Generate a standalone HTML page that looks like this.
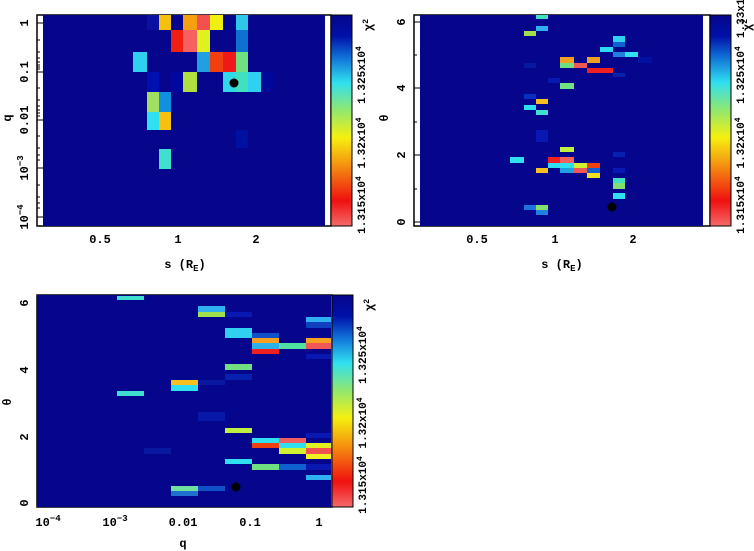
<!DOCTYPE html>
<html><head><meta charset="utf-8"><style>
html,body{margin:0;padding:0;background:#fff;width:754px;height:551px;overflow:hidden}
svg{display:block}
text{font-family:"Liberation Mono","DejaVu Sans Mono",monospace;font-weight:bold;font-size:12px;fill:#000}
.cb{font-size:11px}
</style></head><body>
<svg width="754" height="551" viewBox="0 0 754 551" xmlns="http://www.w3.org/2000/svg">
<defs>
<linearGradient id="jet" x1="0" y1="1" x2="0" y2="0">
<stop offset="0" stop-color="#f56a6a"/>
<stop offset="0.12" stop-color="#f01010"/>
<stop offset="0.3" stop-color="#f59a10"/>
<stop offset="0.42" stop-color="#f5f010"/>
<stop offset="0.55" stop-color="#90e870"/>
<stop offset="0.68" stop-color="#30e0f0"/>
<stop offset="0.8" stop-color="#1070d8"/>
<stop offset="0.9" stop-color="#0010a8"/>
<stop offset="1" stop-color="#06068c"/>
</linearGradient>
</defs>

<!-- ========== Panel 1 ========== -->
<rect x="37" y="15" width="294" height="211" fill="#fff" stroke="#000" stroke-width="1.5"/>
<rect x="43" y="15" width="282" height="211" fill="#06068c"/>
<g stroke="#000" stroke-width="1">
<path d="M37 23h6M37 72h6M37 120h6M37 168h6M37 217h6M37 40h3M37 52h3M37 58h3M37 62h3M37 65h3M37 67h3M37 69h3M37 88h3M37 100h3M37 106h3M37 110h3M37 113h3M37 116h3M37 136h3M37 148h3M37 155h3M37 160h3M37 185h3M37 197h3M37 203h3M37 208h3"/>
<path d="M414 22h6M414 88h6M414 155h6M414 222h6M414 55h3M414 122h3M414 189h3"/>
</g>
<g>
<rect x="147" y="15" width="12" height="15" fill="#0a10a0"/>
<rect x="159" y="15" width="12" height="15" fill="#f5c010"/>
<rect x="183" y="15" width="14" height="15" fill="#f5a010"/>
<rect x="197" y="15" width="13" height="15" fill="#f55050"/>
<rect x="210" y="15" width="13" height="15" fill="#f0f010"/>
<rect x="236" y="15" width="12" height="15" fill="#30c8e8"/>
<rect x="171" y="30" width="12" height="22" fill="#f02010"/>
<rect x="183" y="30" width="14" height="22" fill="#f56060"/>
<rect x="197" y="30" width="13" height="22" fill="#e0f020"/>
<rect x="236" y="30" width="12" height="22" fill="#1070d0"/>
<rect x="133" y="52" width="14" height="20" fill="#30d0f0"/>
<rect x="197" y="52" width="13" height="20" fill="#20a0e0"/>
<rect x="210" y="52" width="13" height="20" fill="#f04010"/>
<rect x="223" y="52" width="13" height="20" fill="#f01818"/>
<rect x="236" y="52" width="12" height="20" fill="#70e080"/>
<rect x="147" y="72" width="12" height="20" fill="#0010b0"/>
<rect x="171" y="72" width="12" height="20" fill="#0008a0"/>
<rect x="183" y="72" width="14" height="20" fill="#b0e040"/>
<rect x="223" y="72" width="13" height="20" fill="#30d8e8"/>
<rect x="236" y="72" width="12" height="20" fill="#40e0c0"/>
<rect x="248" y="72" width="13" height="20" fill="#30d0f0"/>
<rect x="261" y="72" width="12" height="20" fill="#00089a"/>
<rect x="147" y="92" width="12" height="20" fill="#a0e060"/>
<rect x="159" y="92" width="12" height="20" fill="#1090e0"/>
<rect x="147" y="112" width="12" height="18" fill="#30e0f0"/>
<rect x="159" y="112" width="12" height="18" fill="#f5c010"/>
<rect x="236" y="130" width="12" height="18" fill="#0010a0"/>
<rect x="159" y="149" width="12" height="20" fill="#40e0d0"/>
</g>
<circle cx="234" cy="83" r="4.5" fill="#000"/>
<rect x="331" y="15" width="21" height="211" fill="url(#jet)" stroke="#000" stroke-width="1"/>
<text x="100" y="243" text-anchor="middle">0.5</text>
<text x="178" y="243" text-anchor="middle">1</text>
<text x="256" y="243" text-anchor="middle">2</text>
<text x="185" y="268" text-anchor="middle">s (R<tspan font-size="9" dy="3">E</tspan><tspan dy="-3">)</tspan></text>
<g transform="rotate(-90)">
<text x="-23" y="28" text-anchor="middle">1</text>
<text x="-72" y="28" text-anchor="middle">0.1</text>
<text x="-120" y="28" text-anchor="middle">0.01</text>
<text x="-168" y="28" text-anchor="middle">10<tspan font-size="9" dy="-5">−3</tspan></text>
<text x="-217" y="28" text-anchor="middle">10<tspan font-size="9" dy="-5">−4</tspan></text>
<text x="-118" y="11" text-anchor="middle">q</text>
<text class="cb" x="-205" y="365" text-anchor="middle">1.315x10<tspan font-size="8" dy="-4">4</tspan></text>
<text class="cb" x="-143" y="365" text-anchor="middle">1.32x10<tspan font-size="8" dy="-4">4</tspan></text>
<text class="cb" x="-75" y="365" text-anchor="middle">1.325x10<tspan font-size="8" dy="-4">4</tspan></text>
<text x="-25" y="372" text-anchor="middle">χ<tspan font-size="8" dy="-4">2</tspan></text>
</g>

<!-- ========== Panel 2 ========== -->
<rect x="414" y="15" width="296" height="211" fill="#fff" stroke="#000" stroke-width="1.5"/>
<rect x="420" y="15" width="283" height="211" fill="#06068c"/>
<g stroke="#000" stroke-width="1">
<path d="M414 22h6M414 88h6M414 155h6M414 222h6M414 55h3M414 122h3M414 189h3"/>
</g>
<g transform="translate(377,0)">
<rect x="159" y="15" width="12" height="4" fill="#40e0c0"/>
<rect x="159" y="26" width="12" height="5" fill="#30b0f0"/>
<rect x="147" y="31" width="12" height="5" fill="#a0e050"/>
<rect x="236" y="36" width="12" height="6" fill="#30d0f0"/>
<rect x="236" y="42" width="12" height="5" fill="#1060d0"/>
<rect x="223" y="47" width="13" height="5" fill="#30d8f0"/>
<rect x="236" y="52" width="12" height="5" fill="#2080e0"/>
<rect x="248" y="52" width="13" height="5" fill="#30e0f0"/>
<rect x="183" y="57" width="14" height="6" fill="#f5a020"/>
<rect x="210" y="57" width="13" height="6" fill="#f0a020"/>
<rect x="261" y="57" width="14" height="6" fill="#0010a0"/>
<rect x="147" y="63" width="12" height="5" fill="#0818a0"/>
<rect x="183" y="63" width="14" height="5" fill="#70e080"/>
<rect x="197" y="63" width="13" height="5" fill="#f05858"/>
<rect x="210" y="68" width="26" height="5" fill="#f02020"/>
<rect x="236" y="73" width="12" height="4" fill="#0820b0"/>
<rect x="171" y="78" width="12" height="5" fill="#0818b0"/>
<rect x="183" y="83" width="14" height="6" fill="#70e080"/>
<rect x="147" y="94" width="12" height="5" fill="#0830c0"/>
<rect x="159" y="99" width="12" height="5" fill="#f5c020"/>
<rect x="147" y="105" width="12" height="5" fill="#30e0f0"/>
<rect x="159" y="110" width="12" height="5" fill="#40e0d0"/>
<rect x="159" y="130" width="12" height="12" fill="#0818b0"/>
<rect x="183" y="147" width="14" height="5" fill="#c0f040"/>
<rect x="236" y="152" width="12" height="5" fill="#0820b0"/>
<rect x="133" y="157" width="14" height="6" fill="#30e0f0"/>
<rect x="171" y="157" width="12" height="6" fill="#f02020"/>
<rect x="183" y="157" width="14" height="6" fill="#f06060"/>
<rect x="171" y="163" width="12" height="5" fill="#30e0f0"/>
<rect x="183" y="163" width="14" height="5" fill="#30e0f0"/>
<rect x="197" y="163" width="13" height="5" fill="#d0f030"/>
<rect x="210" y="163" width="13" height="5" fill="#f04010"/>
<rect x="159" y="168" width="12" height="5" fill="#f5c020"/>
<rect x="183" y="168" width="14" height="5" fill="#20a0e0"/>
<rect x="197" y="168" width="13" height="5" fill="#f05858"/>
<rect x="210" y="168" width="13" height="5" fill="#1060d0"/>
<rect x="236" y="168" width="12" height="5" fill="#0818b0"/>
<rect x="210" y="173" width="13" height="5" fill="#f0e020"/>
<rect x="236" y="178" width="12" height="5" fill="#40e0c0"/>
<rect x="236" y="183" width="12" height="6" fill="#80e070"/>
<rect x="236" y="193" width="12" height="6" fill="#30e0f0"/>
<rect x="147" y="205" width="12" height="5" fill="#2070e0"/>
<rect x="159" y="205" width="12" height="5" fill="#80e070"/>
<rect x="159" y="210" width="12" height="5" fill="#2080e0"/>
</g>
<circle cx="612" cy="207" r="4.5" fill="#000"/>
<rect x="710" y="15" width="21" height="211" fill="url(#jet)" stroke="#000" stroke-width="1"/>
<text x="477" y="243" text-anchor="middle">0.5</text>
<text x="555" y="243" text-anchor="middle">1</text>
<text x="633" y="243" text-anchor="middle">2</text>
<text x="562" y="268" text-anchor="middle">s (R<tspan font-size="9" dy="3">E</tspan><tspan dy="-3">)</tspan></text>
<g transform="rotate(-90)">
<text x="-222" y="405" text-anchor="middle">0</text>
<text x="-155" y="405" text-anchor="middle">2</text>
<text x="-88" y="405" text-anchor="middle">4</text>
<text x="-22" y="405" text-anchor="middle">6</text>
<text x="-118" y="388" text-anchor="middle">θ</text>
<text class="cb" x="-205" y="744" text-anchor="middle">1.315x10<tspan font-size="8" dy="-4">4</tspan></text>
<text class="cb" x="-143" y="744" text-anchor="middle">1.32x10<tspan font-size="8" dy="-4">4</tspan></text>
<text class="cb" x="-75" y="744" text-anchor="middle">1.325x10<tspan font-size="8" dy="-4">4</tspan></text>
<text class="cb" x="-15" y="744" text-anchor="middle">1.33x10</text>
<text x="-25" y="751" text-anchor="middle">χ<tspan font-size="8" dy="-4">2</tspan></text>
</g>

<!-- ========== Panel 3 ========== -->
<rect x="37" y="295" width="295" height="212" fill="#fff" stroke="#000" stroke-width="1.5"/>
<rect x="37" y="295" width="294" height="212" fill="#06068c"/>
<g>
<rect x="117" y="296" width="27" height="4" fill="#40e0d0"/>
<rect x="198" y="306" width="27" height="6" fill="#30b0f0"/>
<rect x="198" y="312" width="27" height="5" fill="#a0e050"/>
<rect x="225" y="312" width="27" height="5" fill="#0818b0"/>
<rect x="306" y="317" width="25" height="5" fill="#30b0f0"/>
<rect x="306" y="322" width="25" height="6" fill="#1040c0"/>
<rect x="225" y="328" width="27" height="10" fill="#30d0f0"/>
<rect x="252" y="333" width="27" height="5" fill="#1050c8"/>
<rect x="252" y="338" width="27" height="5" fill="#f5a020"/>
<rect x="306" y="338" width="25" height="5" fill="#f5a020"/>
<rect x="252" y="343" width="27" height="6" fill="#30b0e8"/>
<rect x="279" y="343" width="27" height="6" fill="#50e0a0"/>
<rect x="306" y="343" width="25" height="6" fill="#f05858"/>
<rect x="252" y="349" width="27" height="5" fill="#f02020"/>
<rect x="306" y="354" width="25" height="5" fill="#0818b0"/>
<rect x="225" y="364" width="27" height="6" fill="#70e080"/>
<rect x="225" y="374" width="27" height="6" fill="#0820b0"/>
<rect x="171" y="380" width="27" height="5" fill="#f5c020"/>
<rect x="198" y="380" width="27" height="5" fill="#0818a0"/>
<rect x="171" y="385" width="27" height="6" fill="#30e0f0"/>
<rect x="117" y="391" width="27" height="5" fill="#40e0d0"/>
<rect x="198" y="412" width="27" height="9" fill="#0818a8"/>
<rect x="225" y="428" width="27" height="5" fill="#c0f040"/>
<rect x="306" y="433" width="25" height="5" fill="#0818b0"/>
<rect x="252" y="438" width="27" height="5" fill="#30e0f0"/>
<rect x="279" y="438" width="27" height="5" fill="#f06060"/>
<rect x="252" y="443" width="27" height="5" fill="#f04010"/>
<rect x="279" y="443" width="27" height="5" fill="#30e0f0"/>
<rect x="306" y="443" width="25" height="5" fill="#e0f020"/>
<rect x="144" y="448" width="27" height="6" fill="#0818a0"/>
<rect x="279" y="448" width="27" height="6" fill="#d0f030"/>
<rect x="306" y="448" width="25" height="6" fill="#f05050"/>
<rect x="306" y="454" width="25" height="5" fill="#f0f020"/>
<rect x="225" y="459" width="27" height="5" fill="#30e0f0"/>
<rect x="252" y="464" width="27" height="6" fill="#70e080"/>
<rect x="279" y="464" width="27" height="6" fill="#1060d0"/>
<rect x="306" y="464" width="25" height="6" fill="#0818b0"/>
<rect x="306" y="475" width="25" height="5" fill="#30b0f0"/>
<rect x="171" y="486" width="27" height="5" fill="#70e0a0"/>
<rect x="198" y="486" width="27" height="5" fill="#1050c8"/>
<rect x="171" y="491" width="27" height="5" fill="#2070d0"/>
</g>
<circle cx="236" cy="487" r="4.5" fill="#000"/>
<rect x="332" y="295" width="21" height="212" fill="url(#jet)" stroke="#000" stroke-width="1"/>
<text x="48" y="526" text-anchor="middle">10<tspan font-size="9" dy="-5">−4</tspan></text>
<text x="115" y="526" text-anchor="middle">10<tspan font-size="9" dy="-5">−3</tspan></text>
<text x="183" y="526" text-anchor="middle">0.01</text>
<text x="250" y="526" text-anchor="middle">0.1</text>
<text x="319" y="526" text-anchor="middle">1</text>
<text x="183" y="547" text-anchor="middle">q</text>
<g transform="rotate(-90)">
<text x="-503" y="28" text-anchor="middle">0</text>
<text x="-437" y="28" text-anchor="middle">2</text>
<text x="-370" y="28" text-anchor="middle">4</text>
<text x="-303" y="28" text-anchor="middle">6</text>
<text x="-402" y="11" text-anchor="middle">θ</text>
<text class="cb" x="-485" y="366" text-anchor="middle">1.315x10<tspan font-size="8" dy="-4">4</tspan></text>
<text class="cb" x="-423" y="366" text-anchor="middle">1.32x10<tspan font-size="8" dy="-4">4</tspan></text>
<text class="cb" x="-355" y="366" text-anchor="middle">1.325x10<tspan font-size="8" dy="-4">4</tspan></text>
<text x="-305" y="373" text-anchor="middle">χ<tspan font-size="8" dy="-4">2</tspan></text>
</g>
</svg>
</body></html>
